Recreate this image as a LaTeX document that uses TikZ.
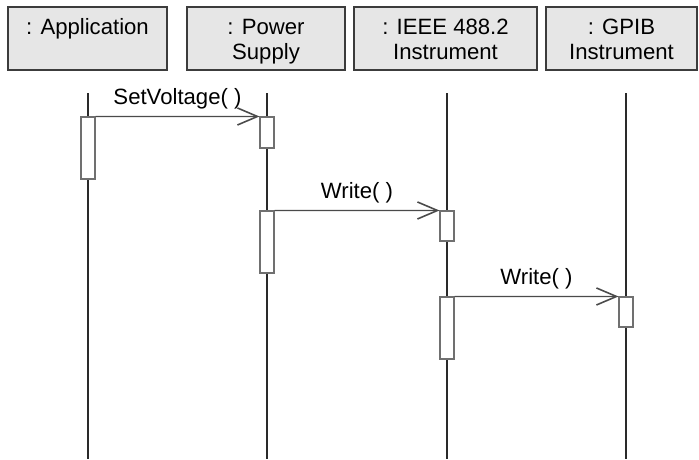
\documentclass[tikz,border=0pt]{standalone}
\usepackage{fontspec}
\setmainfont{Liberation Sans}
\usetikzlibrary{arrows.meta}
\definecolor{box-fill}{HTML}{E6E6E6}
\definecolor{box-line}{HTML}{3C3C3C}
\definecolor{act-line}{HTML}{707070}
\definecolor{msg-line}{HTML}{4A4A4A}
\definecolor{life-line}{HTML}{2A2A2A}

\begin{document}
\begin{tikzpicture}[x=0.2mm, y=-0.2mm,
    every node/.style={font=\fontsize{12.6}{14.2}\selectfont, text=black},
    objbox/.style={draw=box-line, fill=box-fill, line width=0.6pt,
        minimum height=1.26cm, inner sep=0pt},
    objtext/.style={anchor=base, align=center, inner sep=0pt, yshift=-1.06cm},
    actbox/.style={draw=act-line, fill=white, line width=0.6pt,
        minimum width=0.28cm, inner sep=0pt},
    life/.style={life-line, line width=0.6pt},
    msg/.style={msg-line, line width=0.6pt,
        -{Straight Barb[length=0.4cm, width=0.34cm, line width=0.9pt]}},
    msglabel/.style={above=0.14cm, inner sep=0pt}]
  \useasboundingbox (0,0) rectangle (699,459);
  % object boxes
  \node[objbox, minimum width=3.18cm] (app) at (87.5,38.5) {};
  \node[objbox, minimum width=3.16cm] (ps) at (266,38.5) {};
  \node[objbox, minimum width=3.66cm] (ieee) at (445.5,38.5) {};
  \node[objbox, minimum width=3.02cm] (gpib) at (621.5,38.5) {};
  \node[objtext] (app text) at (app.north) {: Application\\\phantom{y}};
  \node[objtext] (ps text) at (ps.north) {: Power\\Supply};
  \node[objtext] (ieee text) at (ieee.north) {: IEEE 488.2\\Instrument};
  \node[objtext] (gpib text) at (gpib.north) {: GPIB\\Instrument};
  % lifelines
  \coordinate (app top) at (88,93);
  \coordinate (app end) at (88,459);
  \coordinate (ps top) at (267,93);
  \coordinate (ps end) at (267,459);
  \coordinate (ieee top) at (447,93);
  \coordinate (ieee end) at (447,459);
  \coordinate (gpib top) at (626,93);
  \coordinate (gpib end) at (626,459);
  \draw[life] (app top) -- (app end);
  \draw[life] (ps top) -- (ps end);
  \draw[life] (ieee top) -- (ieee end);
  \draw[life] (gpib top) -- (gpib end);
  % activations
  \node[actbox, minimum height=1.24cm] (app act) at (88,148) {};
  \node[actbox, minimum height=0.62cm] (ps act1) at (267,132.5) {};
  \node[actbox, minimum height=1.24cm] (ps act2) at (267,242) {};
  \node[actbox, minimum height=0.60cm] (ieee act1) at (447,226) {};
  \node[actbox, minimum height=1.24cm] (ieee act2) at (447,328) {};
  \node[actbox, minimum height=0.60cm] (gpib act) at (626,312) {};
  % messages
  \draw[msg] (app act.north east) -- (ps act1.north west)
    node[msglabel, midway] {SetVoltage( )};
  \draw[msg] (ps act2.north east) -- (ieee act1.north west)
    node[msglabel, midway] {Write( )};
  \draw[msg] (ieee act2.north east) -- (gpib act.north west)
    node[msglabel, midway] {Write( )};
\end{tikzpicture}
\end{document}
